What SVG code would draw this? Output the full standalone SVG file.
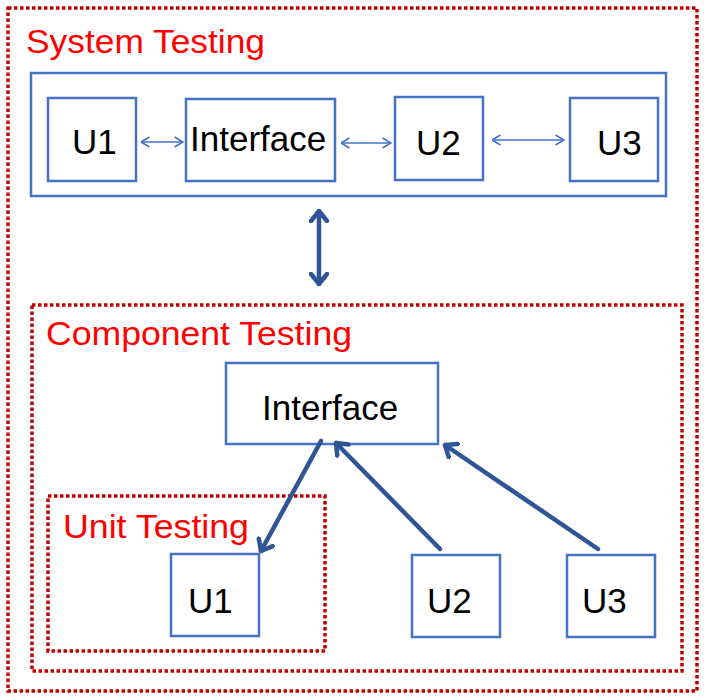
<svg xmlns="http://www.w3.org/2000/svg" width="704" height="698" viewBox="0 0 704 698">
<style>
.zone{fill:none;stroke:#C00000;stroke-width:3.5;stroke-dasharray:3.5 2.5}
.box{fill:#fff;stroke:#4472C4;stroke-width:2.5}
.title{font-family:"Liberation Sans",Arial,sans-serif;font-size:34px;fill:#FF0000}
.lbl{font-family:"Liberation Sans",Arial,sans-serif;font-size:35px;fill:#000}
.thin{fill:none;stroke:#4472C4;stroke-width:1.6}
.thick{fill:none;stroke:#2F5597;stroke-width:4.5;stroke-linecap:round;stroke-linejoin:round}
</style>
<defs>
<marker id="ht" viewBox="0 0 10 12" refX="9.5" refY="6" markerWidth="10" markerHeight="12" markerUnits="userSpaceOnUse" orient="auto-start-reverse">
<path d="M1,1 L9.5,6 L1,11" fill="none" stroke="#4472C4" stroke-width="1.6"/>
</marker>
<marker id="hk" viewBox="0 0 14 20" refX="12" refY="10" markerWidth="14" markerHeight="20" markerUnits="userSpaceOnUse" orient="auto-start-reverse">
<path d="M2,2 L12,10 L2,18" fill="none" stroke="#2F5597" stroke-width="4.5" stroke-linecap="round" stroke-linejoin="round"/>
</marker>
</defs>
<rect width="704" height="698" fill="#fff"/>
<g id="system-testing">
<rect class="zone" x="8" y="8" width="689" height="683"/>
<text class="title" x="26" y="53" textLength="239" lengthAdjust="spacingAndGlyphs">System Testing</text>
<rect class="box" x="31" y="73" width="635" height="123"/>
</g>
<g id="sys-u1"><rect class="box" x="48" y="98" width="88" height="83"/><text class="lbl" x="72" y="154">U1</text></g>
<g id="sys-interface"><rect class="box" x="186" y="99" width="149" height="82"/><text class="lbl" x="190" y="151">Interface</text></g>
<g id="sys-u2"><rect class="box" x="395" y="97" width="88" height="83"/><text class="lbl" x="416" y="155">U2</text></g>
<g id="sys-u3"><rect class="box" x="570" y="98" width="88" height="83"/><text class="lbl" x="597" y="155">U3</text></g>
<g id="component-testing">
<rect class="zone" x="32" y="305" width="650" height="366"/>
<text class="title" x="46" y="345" textLength="306" lengthAdjust="spacingAndGlyphs">Component Testing</text>
</g>
<g id="comp-interface"><rect class="box" x="226" y="363" width="212" height="81"/><text class="lbl" x="262" y="420">Interface</text></g>
<g id="unit-testing">
<rect class="zone" x="48" y="496" width="277" height="155"/>
<text class="title" x="63" y="538" textLength="186" lengthAdjust="spacingAndGlyphs">Unit Testing</text>
</g>
<g id="comp-u1"><rect class="box" x="171" y="554" width="88" height="82"/><text class="lbl" x="188" y="613">U1</text></g>
<g id="comp-u2"><rect class="box" x="412" y="555" width="88" height="82"/><text class="lbl" x="427" y="613">U2</text></g>
<g id="comp-u3"><rect class="box" x="567" y="555" width="88" height="82"/><text class="lbl" x="582" y="613">U3</text></g>
<g id="connectors">
<line class="thin" x1="141" y1="142" x2="183" y2="142" marker-start="url(#ht)" marker-end="url(#ht)"/>
<line class="thin" x1="341" y1="143" x2="391" y2="143" marker-start="url(#ht)" marker-end="url(#ht)"/>
<line class="thin" x1="492" y1="140" x2="564" y2="140" marker-start="url(#ht)" marker-end="url(#ht)"/>
<line class="thick" x1="319" y1="211" x2="319" y2="284" marker-start="url(#hk)" marker-end="url(#hk)"/>
<line class="thick" x1="321" y1="441" x2="261" y2="551" marker-end="url(#hk)"/>
<line class="thick" x1="440" y1="549" x2="336" y2="443" marker-end="url(#hk)"/>
<line class="thick" x1="598" y1="549" x2="445" y2="445" marker-end="url(#hk)"/>
</g>
</svg>
